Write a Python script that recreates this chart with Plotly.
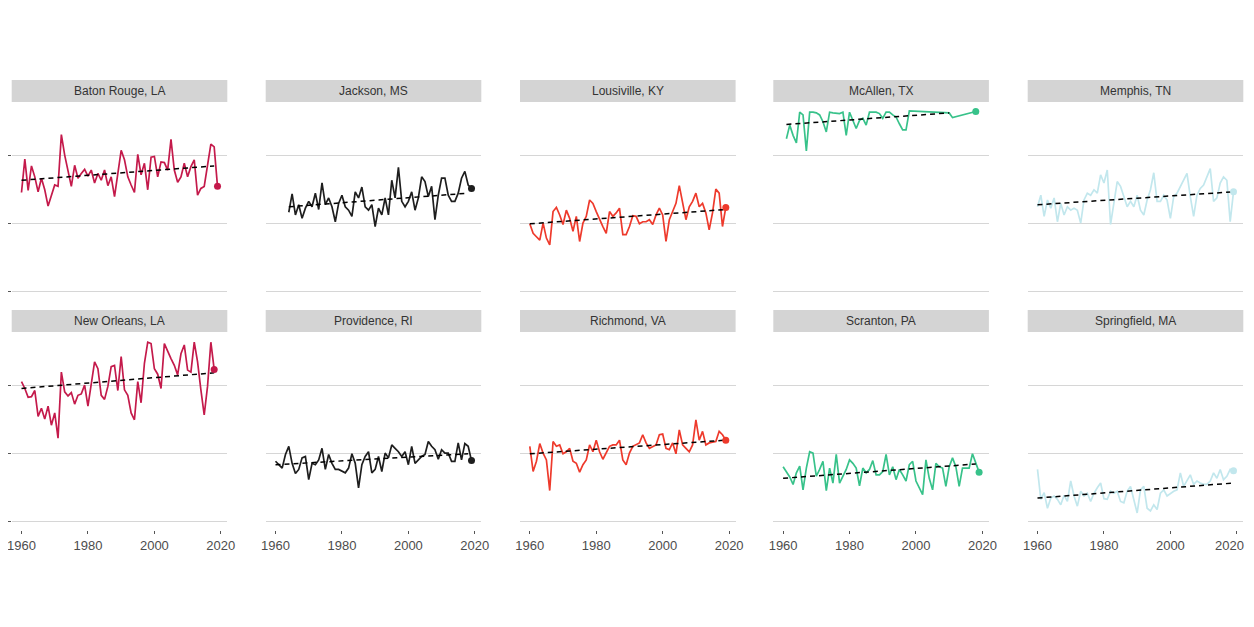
import numpy as np
import plotly.graph_objects as go

cities = ["Baton Rouge, LA", "Jackson, MS", "Lousiville, KY", "McAllen, TX", "Memphis, TN",
          "New Orleans, LA", "Providence, RI", "Richmond, VA", "Scranton, PA", "Springfield, MA"]

years_full = list(range(1960, 2020))
new_orleans_years = list(range(1960, 2019))
jackson_years = list(range(1964, 2020))
mcallen_years = list(range(1961, 1999)) + [2010, 2011, 2018]

baton_rouge = [54.6, 59.5, 54.9, 58.5, 56.9, 54.7, 56.7, 55.0, 52.6, 54.0,
               55.7, 55.5, 63.1, 60.1, 57.9, 55.5, 58.6, 56.7, 57.4, 58.0,
               57.0, 57.9, 56.0, 57.4, 56.4, 57.9, 55.6, 56.9, 54.0, 57.4,
               60.8, 59.4, 56.9, 55.7, 54.6, 60.2, 57.2, 58.9, 55.0, 59.8,
               59.9, 56.9, 59.1, 59.0, 57.9, 62.4, 57.9, 56.1, 56.9, 58.9,
               56.9, 58.4, 59.4, 54.2, 55.2, 55.5, 58.4, 61.7, 61.3, 55.5]

new_orleans = [60.6, 59.6, 58.3, 58.4, 59.3, 55.5, 56.7, 55.1, 57.0, 54.2,
               56.0, 52.3, 62.0, 59.1, 58.5, 59.0, 57.3, 58.6, 58.8, 60.1,
               57.0, 60.6, 63.5, 62.5, 58.6, 58.0, 59.9, 62.8, 63.0, 59.3,
               64.3, 59.4, 58.6, 56.0, 55.0, 60.6, 57.5, 63.3, 66.4, 66.2,
               62.5, 61.7, 59.6, 66.2, 65.0, 64.0, 63.0, 61.6, 64.7, 66.0,
               62.3, 62.0, 66.4, 63.5, 59.4, 55.7, 59.9, 66.4, 62.4]

jackson = [51.7, 54.4, 51.3, 52.8, 50.8, 52.3, 53.3, 52.5, 54.5, 52.1,
           56.0, 52.8, 53.8, 52.5, 50.3, 53.0, 54.2, 52.5, 52.0, 51.1,
           54.7, 53.8, 55.4, 52.5, 52.0, 52.8, 49.6, 52.3, 51.3, 53.8,
           51.3, 56.4, 53.8, 58.3, 53.3, 52.5, 53.3, 54.7, 52.0, 53.8,
           56.9, 56.2, 54.0, 55.5, 50.6, 54.2, 56.7, 56.7, 54.2, 53.3,
           53.3, 54.5, 56.7, 57.7, 55.7, 55.2]

providence = [48.9, 48.4, 47.9, 49.9, 51.1, 48.6, 47.1, 47.7, 49.4, 49.6,
              46.2, 48.6, 48.4, 49.1, 50.8, 47.7, 49.9, 48.6, 47.7, 47.7,
              47.4, 47.2, 47.9, 50.0, 48.6, 45.0, 48.4, 49.6, 50.3, 47.2,
              47.7, 49.6, 47.4, 50.1, 49.4, 51.3, 50.8, 50.3, 49.6, 50.3,
              48.4, 51.1, 48.6, 49.1, 49.6, 49.9, 51.8, 51.1, 50.6, 49.2,
              50.6, 50.1, 50.1, 48.9, 48.9, 51.6, 49.1, 51.5, 51.1, 49.0]

louisville = [50.0, 48.6, 48.1, 47.6, 50.1, 47.9, 46.9, 51.8, 52.4, 51.3,
              49.9, 52.0, 50.8, 48.9, 51.1, 47.4, 50.1, 51.1, 53.5, 53.0,
              51.8, 50.6, 49.6, 48.6, 51.8, 51.1, 51.6, 52.3, 48.4, 48.4,
              49.6, 51.2, 51.1, 50.0, 50.3, 50.3, 50.6, 49.9, 51.3, 52.3,
              51.3, 47.4, 50.6, 51.8, 53.0, 55.6, 53.0, 50.6, 52.5, 53.3,
              54.5, 52.5, 53.0, 51.6, 49.1, 51.6, 55.1, 54.5, 49.6, 52.4]

richmond = [51.1, 47.4, 48.9, 51.5, 50.1, 49.1, 44.6, 51.8, 51.1, 51.3,
            50.0, 50.3, 50.8, 48.9, 48.6, 47.3, 48.4, 49.1, 51.3, 50.3,
            52.0, 50.3, 49.2, 50.1, 51.1, 51.3, 51.3, 52.0, 49.1, 48.4,
            50.1, 51.1, 51.3, 51.6, 52.8, 51.6, 50.8, 51.1, 51.3, 52.8,
            52.9, 50.8, 50.6, 51.6, 50.0, 53.5, 51.3, 50.8, 50.3, 51.3,
            55.0, 52.0, 53.3, 51.3, 51.6, 51.7, 51.8, 53.3, 52.8, 52.0]

mcallen = [62.5, 64.5, 63.0, 61.9, 66.4, 66.0, 60.7, 66.4, 66.4, 66.3,
           66.0, 65.0, 63.5, 66.4, 66.3, 66.2, 66.2, 66.4, 63.0, 66.4,
           65.2, 64.0, 65.2, 65.5, 64.5, 66.4, 66.4, 66.4, 66.2, 65.5,
           66.4, 66.4, 66.0, 65.7, 64.7, 63.8, 63.8, 66.6, 66.3, 65.6, 66.5]

scranton = [48.1, 47.4, 46.6, 45.5, 47.2, 48.2, 44.7, 47.9, 50.3, 50.1,
            46.7, 47.7, 48.9, 44.6, 47.9, 45.7, 49.9, 45.7, 46.7, 47.7,
            49.1, 48.6, 47.9, 45.3, 47.9, 47.2, 47.7, 49.0, 46.9, 46.9,
            47.4, 49.9, 46.9, 48.1, 46.2, 47.7, 46.9, 46.0, 48.4, 48.9,
            46.0, 45.0, 44.0, 49.1, 46.4, 44.7, 48.6, 48.1, 47.9, 45.2,
            48.1, 49.4, 48.1, 45.2, 47.9, 47.9, 47.9, 50.0, 48.6, 47.3]

memphis = [52.5, 54.2, 51.1, 53.5, 52.3, 53.8, 50.3, 53.0, 51.3, 52.5,
           52.0, 52.3, 52.0, 50.1, 53.5, 54.5, 54.2, 55.0, 54.5, 57.2,
           56.0, 57.9, 49.9, 53.0, 56.2, 55.5, 54.0, 52.5, 53.3, 52.5,
           54.2, 52.0, 51.3, 53.5, 55.0, 57.5, 53.3, 53.3, 54.2, 53.5,
           50.8, 54.0, 54.5, 55.5, 56.4, 57.4, 54.0, 51.1, 54.2, 55.2,
           55.7, 56.9, 58.1, 53.3, 53.8, 56.0, 56.9, 56.4, 50.3, 54.7]

springfield = [47.7, 43.3, 44.3, 42.0, 43.5, 43.8, 43.3, 42.5, 43.9, 43.0,
               46.0, 43.8, 42.3, 44.5, 43.8, 44.2, 43.0, 44.2, 45.0, 45.7,
               43.4, 43.3, 44.5, 44.2, 44.5, 43.0, 42.8, 44.5, 45.2, 43.0,
               41.3, 44.7, 45.2, 42.0, 41.6, 42.5, 41.8, 44.2, 44.7, 43.8,
               44.2, 44.5, 44.7, 47.2, 45.2, 46.0, 46.9, 45.5, 46.0, 45.7,
               45.5, 45.5, 46.0, 47.2, 46.4, 47.7, 46.2, 46.7, 47.7, 47.5]

# dashed trend lines (same order as cities)
trend_start_year = [1960, 1964, 1960, 1961, 1960, 1960, 1960, 1960, 1960, 1960]
trend_end_year = [2018, 2018, 2019, 2010, 2019, 2018, 2018, 2019, 2018, 2019]
trend_start_val = [56.4, 52.5, 50.0, 64.6, 52.8, 59.6, 48.4, 50.0, 46.4, 43.5]
trend_end_val = [58.5, 54.5, 52.1, 66.3, 54.7, 61.9, 50.0, 52.0, 48.5, 45.7]

x_ticks = [1960, 1980, 2000, 2020]
x_tick_labels = ["1960", "1980", "2000", "2020"]
y_grid = [40, 50, 60]

series_years = [years_full, jackson_years, years_full, mcallen_years, years_full,
                new_orleans_years, years_full, years_full, years_full, years_full]
series_vals = [baton_rouge, jackson, louisville, mcallen, memphis,
               new_orleans, providence, richmond, scranton, springfield]

col_colors = ["#c41a4b", "#1e1e1e", "#ee3a2c", "#38c28a", "#c2e7ed"]

# page body has an 8px margin, so figure coordinates = screen - 8
W, H = 1246, 611
col_left = [3.7, 257.7, 512.0, 765.3, 1019.7]
panel_w = 215.6
panel_top = [94, 324]
panel_bot = [292, 522]
strip_top = [72, 302]
tick_label_y = 537   # centre of x tick labels, figure pixels
visible_right = 1238  # rightmost pixel that is shown in the page

fig = go.Figure()
layout = dict(width=W, height=H, margin=dict(l=0, r=0, t=0, b=0, autoexpand=False),
              paper_bgcolor="white", plot_bgcolor="white", showlegend=False,
              font=dict(family="Liberation Sans, Arial, sans-serif", color="#333333"))
shapes, annotations = [], []

for k in range(10):
    r, c = divmod(k, 5)
    n = k + 1
    xs = "" if n == 1 else str(n)
    yrs = np.array(series_years[k], dtype=float)
    vals = np.array(series_vals[k], dtype=float)
    color = col_colors[c]

    fig.add_trace(go.Scatter(x=yrs, y=vals, mode="lines",
                             line=dict(color=color, width=1.7),
                             xaxis="x" + xs, yaxis="y" + xs, hoverinfo="skip"))
    fig.add_trace(go.Scatter(x=[trend_start_year[k], trend_end_year[k]],
                             y=[trend_start_val[k], trend_end_val[k]], mode="lines",
                             line=dict(color="black", width=1.5, dash="5px,4px"),
                             xaxis="x" + xs, yaxis="y" + xs, hoverinfo="skip"))
    fig.add_trace(go.Scatter(x=[yrs[-1]], y=[vals[-1]], mode="markers",
                             marker=dict(color=color, size=7),
                             xaxis="x" + xs, yaxis="y" + xs, hoverinfo="skip"))

    x0 = col_left[c] / W
    x1 = (col_left[c] + panel_w) / W
    labels = list(x_tick_labels)
    last_panel = (r == 1 and c == 4)
    if last_panel:
        labels[-1] = ""
        annotations.append(dict(text=x_tick_labels[-1], xref="paper", yref="paper",
                                x=visible_right / W, y=(H - tick_label_y) / H,
                                xanchor="right", yanchor="middle", showarrow=False,
                                font=dict(size=13, color="#4d4d4d")))
    layout["xaxis" + xs] = dict(
        domain=[x0, x1], range=[1957.05, 2021.95], anchor="y" + xs,
        showgrid=False, zeroline=False, showline=False, automargin=False,
        tickvals=x_ticks, ticktext=labels, showticklabels=(r == 1),
        ticklabeloverflow="allow",
        ticks="outside" if r == 1 else "", ticklen=3, tickcolor="#555555",
        tickfont=dict(size=13, color="#4d4d4d"), fixedrange=True)
    layout["yaxis" + xs] = dict(
        domain=[(H - panel_bot[r]) / H, (H - panel_top[r]) / H],
        range=[38.8, 67.9], anchor="x" + xs, automargin=False,
        tickvals=y_grid, showticklabels=False, showgrid=True,
        gridcolor="#d6d6d6", gridwidth=1, zeroline=False, showline=False,
        ticks="outside" if c == 0 else "", ticklen=3, tickcolor="#555555",
        fixedrange=True)

    shapes.append(dict(type="rect", xref="paper", yref="paper",
                       x0=x0, x1=x1,
                       y0=(H - panel_top[r]) / H, y1=(H - strip_top[r]) / H,
                       fillcolor="#d4d4d4", line=dict(width=0), layer="below"))
    annotations.append(dict(text=cities[k], xref="paper", yref="paper",
                            x=(x0 + x1) / 2, y=(H - (strip_top[r] + panel_top[r]) / 2) / H,
                            xanchor="center", yanchor="middle", showarrow=False,
                            font=dict(size=12, color="#333333")))

layout["shapes"] = shapes
layout["annotations"] = annotations
fig.update_layout(**layout)
fig.write_html("out.html")
